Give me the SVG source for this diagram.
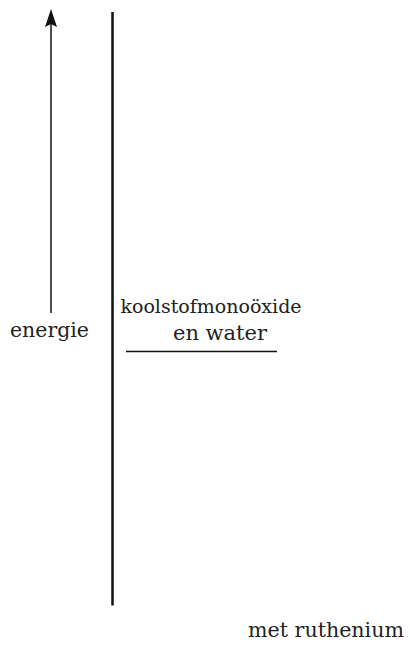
<svg xmlns="http://www.w3.org/2000/svg" width="410" height="645" viewBox="0 0 410 645">
<style>
.t{font-family:"DejaVu Serif","Times New Roman",serif;font-size:20px;fill:#222}
.ln{stroke:#111;fill:none}
</style>
<g id="connectors">
<line class="ln" x1="51" y1="313" x2="51" y2="22" stroke-width="1.5"/>
<polygon points="51,9 57,27 51,24 45,27" fill="#111"/>
</g>
<g id="axis">
<line class="ln" x1="112.5" y1="12" x2="112.5" y2="605.5" stroke-width="2.5"/>
</g>
<g id="energie"><text class="t" x="10" y="337" textLength="79" lengthAdjust="spacingAndGlyphs">energie</text></g>
<g id="level">
<text class="t" x="211" y="313" text-anchor="middle" style="font-size:19px">koolstofmonoöxide</text>
<text class="t" x="173" y="340" textLength="94" lengthAdjust="spacingAndGlyphs">en water</text>
<line class="ln" x1="126" y1="351.5" x2="277" y2="351.5" stroke-width="1.5"/>
</g>
<g id="ruthenium"><text class="t" x="248" y="637" textLength="156" lengthAdjust="spacingAndGlyphs">met ruthenium</text></g>
</svg>
